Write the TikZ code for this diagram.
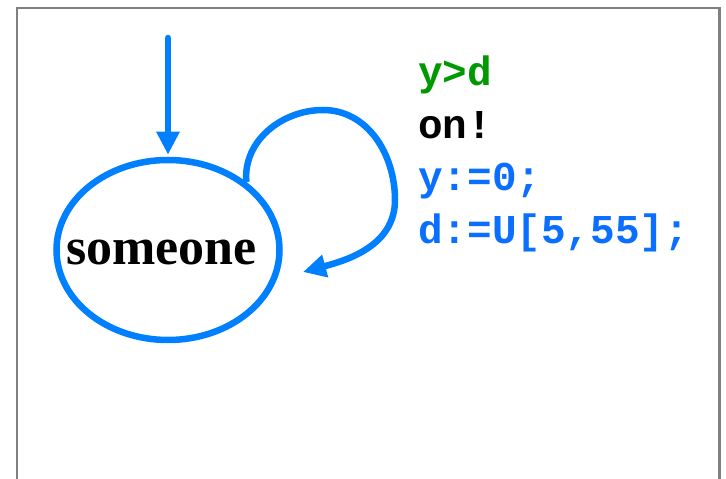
\documentclass[tikz,border=0pt]{standalone}
\usepackage{fontspec}
\usepackage{tikz}
\usetikzlibrary{positioning,calc,arrows.meta,shapes.geometric}
\newfontfamily\codefont{Liberation Mono}
\newfontfamily\namefont{Liberation Serif}
\definecolor{edgec}{HTML}{0080FF}
\definecolor{updc}{HTML}{0A6EFF}
\definecolor{guardc}{HTML}{009900}
\definecolor{framec}{HTML}{808080}

\begin{document}
\begin{tikzpicture}[x=1pt, y=1pt,
    loc/.style={draw=edgec, line width=6.5pt, ellipse, minimum width=223pt,
                minimum height=180pt, inner sep=0pt},
    edge/.style={edgec, line width=6.5pt,
                 -{Triangle[length=23pt,width=22pt]}},
    lbl/.style={anchor=base west, inner sep=0pt,
                font=\codefont\bfseries\fontsize{41}{41}\selectfont}]
  \useasboundingbox (0,0) rectangle (726,479);
  % frame
  \draw[framec, line width=1.6pt] (17,0) -- (17,471) -- (719.5,471);
  \draw[framec, line width=3pt] (719.5,472) -- (719.5,0);
  % location
  \node[loc] (st) at (168,229) {};
  \node[anchor=base, inner sep=0pt,
        font=\namefont\bfseries\fontsize{52}{52}\selectfont] (nm) at (161.5,214) {someone};
  % initial arrow
  \coordinate (init) at (168,441);
  \draw[edge, line cap=round] (init) -- ([yshift=2pt]st.north);
  % self loop
  \coordinate (back) at (303,207);
  \draw[edge] (st.41) to[out=95,in=180] (323,369) to[out=0,in=90] (395,279)
    to[out=-90,in=15] (back);
  % edge labels
  \node[lbl, text=guardc] (guard) at (418,393) {y>d};
  \node[lbl, text=black]  (sync)  at (418,340) {on!};
  \node[lbl, text=updc]   (upd1)  at (418,288) {y:=0;};
  \node[lbl, text=updc]   (upd2)  at (418,235) {d:=U[5,55];};
\end{tikzpicture}
\end{document}
